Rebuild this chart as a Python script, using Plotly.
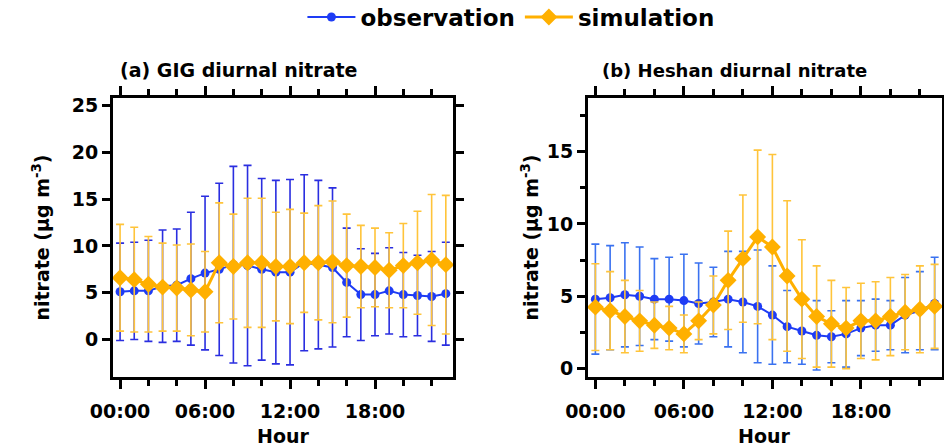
import plotly.graph_objects as go
from plotly.subplots import make_subplots

hours = list(range(24))
tick_hours = [0, 6, 12, 18]
tick_labels = ["00:00", "06:00", "12:00", "18:00"]

# (a) GIG
gig_obs = [5.1, 5.2, 5.2, 5.7, 5.8, 6.5, 7.1, 7.5, 8.0, 7.9, 7.5, 7.2,
           7.2, 8.2, 8.0, 7.7, 6.1, 4.8, 4.8, 5.2, 4.8, 4.7, 4.6, 4.9]
gig_obs_sd = [5.2, 5.2, 5.4, 6.0, 6.0, 7.1, 8.2, 9.2, 10.5, 10.7, 9.7, 9.8,
              9.9, 9.4, 9.0, 8.5, 5.8, 4.9, 4.4, 4.6, 4.5, 4.3, 4.8, 5.5]
gig_sim = [6.6, 6.4, 5.9, 5.6, 5.5, 5.3, 5.1, 8.2, 7.8, 8.2, 8.2, 7.8,
           7.8, 8.2, 8.2, 8.3, 7.9, 7.8, 7.7, 7.4, 7.9, 8.2, 8.5, 8.0]
gig_sim_sd = [5.7, 5.6, 5.1, 4.7, 4.6, 4.9, 4.3, 6.4, 5.6, 6.9, 6.9, 5.8,
              6.1, 5.3, 6.1, 6.5, 5.5, 4.4, 4.2, 4.0, 4.5, 5.5, 7.0, 7.4]

# (b) Heshan
hs_obs = [4.8, 4.9, 5.1, 5.0, 4.8, 4.8, 4.7, 4.5, 4.6, 4.8, 4.6, 4.3,
          3.7, 2.9, 2.6, 2.3, 2.2, 2.4, 2.8, 3.0, 3.0, 3.7, 4.0, 4.5]
hs_obs_sd = [3.8, 3.6, 3.6, 3.4, 2.8, 2.9, 3.2, 2.8, 2.4, 3.3, 3.5, 3.9,
             3.4, 2.5, 2.3, 2.4, 1.8, 2.3, 1.9, 1.8, 1.7, 2.6, 2.7, 3.2]
hs_sim = [4.25, 4.0, 3.6, 3.3, 3.0, 2.8, 2.4, 3.3, 4.4, 6.1, 7.6, 9.1,
          8.4, 6.4, 4.8, 3.6, 3.1, 2.8, 3.3, 3.3, 3.6, 3.9, 4.1, 4.3]
hs_sim_sd = [3.0, 2.7, 2.5, 2.1, 1.6, 1.5, 1.3, 1.3, 2.0, 3.4, 4.4, 6.0,
             6.4, 5.2, 4.1, 3.5, 3.0, 2.8, 2.6, 2.7, 2.7, 2.6, 3.0, 2.9]

BLUE = "#1e3cf5"
ORANGE = "#ffb000"
FONT = "DejaVu Sans"

fig = make_subplots(rows=1, cols=2, horizontal_spacing=0.16)

def add_pair(col, obs, obs_sd, sim, sim_sd, obs_err_col, showlegend):
    fig.add_trace(go.Scatter(
        x=hours, y=obs, name="observation", mode="lines+markers",
        line=dict(color=BLUE, width=2),
        marker=dict(symbol="circle", size=9, color=BLUE),
        error_y=dict(type="data", array=obs_sd, visible=True,
                     color=obs_err_col, thickness=1.6, width=4),
        showlegend=showlegend, legendgroup="obs"), row=1, col=col)
    fig.add_trace(go.Scatter(
        x=hours, y=sim, name="simulation", mode="lines+markers",
        line=dict(color=ORANGE, width=3),
        marker=dict(symbol="diamond", size=13, color=ORANGE),
        error_y=dict(type="data", array=sim_sd, visible=True,
                     color="#ffc43a", thickness=1.6, width=4),
        showlegend=showlegend, legendgroup="sim"), row=1, col=col)

add_pair(1, gig_obs, gig_obs_sd, gig_sim, gig_sim_sd, "#2a2ee0", True)
add_pair(2, hs_obs, hs_obs_sd, hs_sim, hs_sim_sd, "#3a72f0", False)

axis_common = dict(showline=True, linecolor="black", linewidth=3, mirror="allticks",
                   ticks="outside", tickwidth=2.5, tickcolor="black",
                   showgrid=False, zeroline=False,
                   tickfont=dict(family=FONT, size=19, color="black", weight="bold"))

for c, dom in [(1, [0, 0.41]), (2, [0.573, 1.0])]:
    fig.update_xaxes(axis_common, row=1, col=c, domain=dom,
                     range=[-0.5, 23.5], tickvals=tick_hours, ticktext=tick_labels,
                     ticklen=9, ticklabelstandoff=6,
                     minor=dict(dtick=2, tick0=0, ticklen=6, tickwidth=2.5,
                                tickcolor="black", ticks="outside", showgrid=False))

fig.update_yaxes(axis_common, row=1, col=1, range=[-4, 25.8],
                 tickvals=[0, 5, 10, 15, 20, 25], ticklen=8)
fig.update_yaxes(axis_common, row=1, col=2, range=[-0.58, 18.7],
                 tickvals=[0, 5, 10, 15], ticklen=8,
                 minor=dict(dtick=2.5, tick0=0, ticklen=5, tickwidth=2.5,
                            tickcolor="black", ticks="outside", showgrid=False))

title_font = dict(family=FONT, size=19, color="black", weight="bold")
annotations = [
    dict(text="(a) GIG diurnal nitrate", x=0.006, y=1.10, xref="paper", yref="paper",
         xanchor="left", yanchor="middle", showarrow=False, font=title_font),
    dict(text="(b) Heshan diurnal nitrate", x=0.588, y=1.10, xref="paper", yref="paper",
         xanchor="left", yanchor="middle", showarrow=False,
         font=dict(family=FONT, size=18, color="black", weight="bold")),
    dict(text="nitrate (μg m<sup>-3</sup>)", x=-0.088, y=0.5, xref="paper", yref="paper",
         textangle=-90, xanchor="center", yanchor="middle", showarrow=False,
         font=title_font),
    dict(text="nitrate (μg m<sup>-3</sup>)", x=0.503, y=0.5, xref="paper", yref="paper",
         textangle=-90, xanchor="center", yanchor="middle", showarrow=False,
         font=title_font),
    dict(text="Hour", x=0.205, y=-0.212, xref="paper", yref="paper",
         xanchor="center", yanchor="middle", showarrow=False, font=title_font),
    dict(text="Hour", x=0.785, y=-0.212, xref="paper", yref="paper",
         xanchor="center", yanchor="middle", showarrow=False, font=title_font),
]

fig.update_layout(
    width=944, height=447,
    margin=dict(l=113, r=2, t=98, b=70, autoexpand=False),
    plot_bgcolor="white", paper_bgcolor="white",
    font=dict(family=FONT, color="black"),
    annotations=annotations,
    legend=dict(orientation="h", x=0.48, y=1.29, xanchor="center", yanchor="middle",
                font=dict(family=FONT, size=23, color="black", weight="bold"),
                itemwidth=48, bgcolor="rgba(0,0,0,0)"),
)

fig.write_html("out.html", config={"displayModeBar": False},
               post_script="document.body.style.margin='0';")
